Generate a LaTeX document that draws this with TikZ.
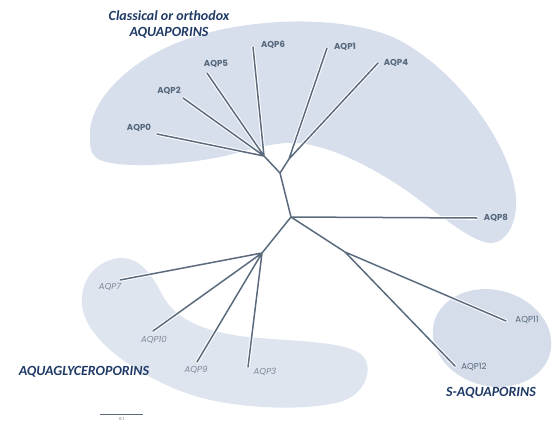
\documentclass[tikz,border=0pt]{standalone}
\usepackage{fontspec}
\newfontfamily\lblfont{Poppins}
\newfontfamily\grpfont{Carlito}
\definecolor{blobA}{HTML}{D6DFEB}
\definecolor{blobB}{HTML}{DFE5EE}
\definecolor{blobC}{HTML}{D4DDE9}
\definecolor{treecol}{HTML}{5B6B7E}
\definecolor{lblcol}{HTML}{56677D}
\definecolor{lblglyc}{HTML}{7D8A9B}
\definecolor{grpcol}{HTML}{1F3A66}
\tikzset{
  halo/.style={draw=white, line width=3.6pt, line cap=round},
  branch/.style={draw=treecol, line width=1.5pt, line cap=round},
  lbl/.style={font=\lblfont\bfseries\fontsize{8.6}{9}\selectfont, text=lblcol, inner sep=0pt},
  lblreg/.style={font=\lblfont\fontsize{8.6}{9}\selectfont, text=lblcol, inner sep=0pt},
  lblit/.style={font=\lblfont\itshape\fontsize{8.6}{9}\selectfont, text=lblglyc, inner sep=0pt},
  grp/.style={font=\grpfont\bfseries\itshape\fontsize{14}{16}\selectfont, text=grpcol, inner sep=0pt, align=center},
}
\begin{document}
\begin{tikzpicture}[x=1pt,y=-1pt]
\useasboundingbox (0,0) rectangle (552,424);
% blobs
\fill[blobA] (90,140) .. controls (86,105) and (125,60) .. (190,38)
  .. controls (250,18) and (340,14) .. (395,38)
  .. controls (450,65) and (500,130) .. (513,180)
  .. controls (522,215) and (510,240) .. (493,243)
  .. controls (475,245) and (440,215) .. (410,193)
  .. controls (370,165) and (320,140) .. (285,143)
  .. controls (262,145) and (245,152) .. (215,158)
  .. controls (170,166) and (120,168) .. (100,160)
  .. controls (92,156) and (90,150) .. (90,140) -- cycle;
\fill[blobB] (82,305) .. controls (80,280) and (95,262) .. (118,258)
  .. controls (140,256) and (152,275) .. (163,296)
  .. controls (175,318) and (200,330) .. (240,336)
  .. controls (290,342) and (345,340) .. (362,355)
  .. controls (375,368) and (365,395) .. (340,402)
  .. controls (300,412) and (235,408) .. (195,396)
  .. controls (150,382) and (86,345) .. (82,305) -- cycle;
\fill[blobC, rotate around={-15:(492,338)}] (492,338) ellipse [x radius=60, y radius=48];
% tree coordinates
\coordinate (A) at (264,156);
\coordinate (B) at (280,173);
\coordinate (D) at (289,159);
\coordinate (E) at (291,217);
\coordinate (F) at (262,253);
\coordinate (G) at (345,252);
\coordinate (t0) at (157,134);
\coordinate (t2) at (183,98);
\coordinate (t5) at (207,73);
\coordinate (t6) at (253,47);
\coordinate (t1) at (327,48);
\coordinate (t4) at (378,63);
\coordinate (t8) at (477,218);
\coordinate (t11) at (506,321);
\coordinate (t12) at (455,366);
\coordinate (t3) at (248,367);
\coordinate (t9) at (197,362);
\coordinate (t10) at (153,331);
\coordinate (t7) at (120,280);
\newcommand\treeedges{(A)--(t0) (A)--(t2) (A)--(t5) (A)--(t6) (A)--(B)
  (B)--(D) (D)--(t1) (D)--(t4) (B)--(E) (E)--(t8) (E)--(G) (G)--(t11) (G)--(t12)
  (E)--(F) (F)--(t7) (F)--(t10) (F)--(t9) (F)--(t3)}
\draw[halo] \treeedges;
\draw[branch] \treeedges;
% labels
\node[lbl] (l0) at (139,128) {AQP0};
\node[lbl] (l2) at (169,91) {AQP2};
\node[lbl] (l5) at (216,64) {AQP5};
\node[lbl] (l6) at (273,45) {AQP6};
\node[lbl] (l1) at (345,47) {AQP1};
\node[lbl] (l4) at (396,63) {AQP4};
\node[lbl] (l8) at (496,218) {AQP8};
\node[lblreg] (l11) at (527,320) {AQP11};
\node[lblreg] (l12) at (474,367) {AQP12};
\node[lblit] (l7) at (110,287) {AQP7};
\node[lblit] (l10) at (154,340) {AQP10};
\node[lblit] (l9) at (196,370) {AQP9};
\node[lblit] (l3) at (265,372) {AQP3};
% group labels
\node[grp] (gc) at (169,24) {Classical or orthodox\\AQUAPORINS};
\node[grp] (gg) at (84,372) {AQUAGLYCEROPORINS};
\node[grp] (gs) at (491,393) {S-AQUAPORINS};
% scale bar
\coordinate (s1) at (100,414);
\coordinate (s2) at (143,414);
\draw[treecol, line width=1pt] (s1) -- (s2);
\node[font=\lblfont\fontsize{4}{4}\selectfont, text=treecol, inner sep=0pt] (sl) at (121.5,419) {0.1};
\end{tikzpicture}
\end{document}
